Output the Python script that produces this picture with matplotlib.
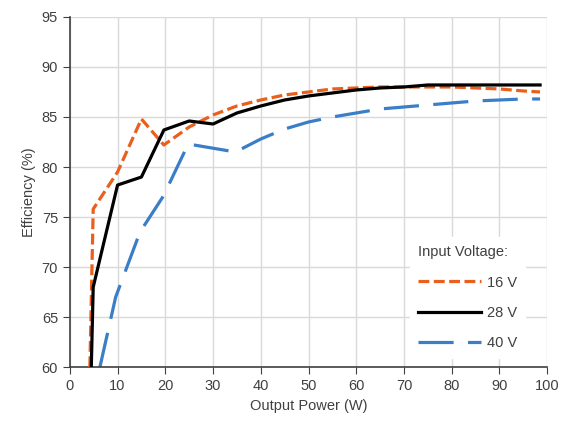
import numpy as np
import matplotlib.pyplot as plt

# output power (W) and efficiency (%)
p16 = [4.2, 4.9, 10, 15, 19.7, 25, 30, 35, 40, 45, 50, 55, 60, 65, 70, 75, 80, 85, 90, 95, 98.5]
e16 = [60, 75.8, 79.5, 84.8, 82.2, 84.0, 85.2, 86.1, 86.7, 87.2, 87.5, 87.8, 87.9, 88.0, 88.0, 88.0, 88.0, 87.9, 87.8, 87.6, 87.5]

p28 = [4.5, 4.9, 10, 15, 19.7, 25, 30, 35, 40, 45, 50, 55, 60, 65, 70, 75, 80, 85, 90, 95, 98.5]
e28 = [60, 68.0, 78.2, 79.0, 83.7, 84.6, 84.3, 85.4, 86.1, 86.7, 87.1, 87.4, 87.7, 87.9, 88.0, 88.2, 88.2, 88.2, 88.2, 88.2, 88.2]

p40 = [6.3, 9.6, 14.7, 19.6, 24.8, 34.7, 40, 45, 50, 55, 60, 65, 70, 75, 80, 85, 90, 95, 98.5]
e40 = [60, 67.0, 73.5, 77.1, 82.3, 81.5, 82.8, 83.8, 84.5, 85.0, 85.4, 85.8, 86.0, 86.2, 86.4, 86.6, 86.7, 86.8, 86.8]

plt.rcParams["font.family"] = "Liberation Sans"
plt.rcParams["font.size"] = 10.5

fig = plt.figure(figsize=(5.63, 4.23), dpi=100)
ax = fig.add_axes([0.124, 0.132, 0.848, 0.828])

ax.plot(p16, e16, color="#e8601c", lw=2.3, dashes=(3.4, 1.4), label="16 V", zorder=3)
ax.plot(p28, e28, color="black", lw=2.3, label="28 V", zorder=4)
ax.plot(p40, e40, color="#3a7ec8", lw=2.3, dashes=(11, 4.5), label="40 V", zorder=2)

ax.set_xlim(0, 100)
ax.set_ylim(60, 95)
ax.set_xticks(np.arange(0, 101, 10))
ax.set_yticks(np.arange(60, 96, 5))
ax.grid(True, color="#d9d9d9", lw=1)
ax.set_axisbelow(True)
for s in ["top", "right"]:
    ax.spines[s].set_visible(False)
for s in ["left", "bottom"]:
    ax.spines[s].set_color("#404040")
    ax.spines[s].set_linewidth(1.2)
ax.tick_params(direction="out", length=5, color="#404040", labelcolor="#404040")

ax.set_xlabel("Output Power (W)", color="#404040")
ax.set_ylabel("Efficiency (%)", color="#404040")

leg = ax.legend(title="Input Voltage:", loc="upper left", frameon=True,
                bbox_to_anchor=(0.713, 0.371), borderaxespad=0,
                handlelength=4.3, handletextpad=0.4, labelspacing=1.12,
                borderpad=0.55, fancybox=False)
leg.get_frame().set_edgecolor("white")
leg.get_frame().set_facecolor("white")
leg.get_frame().set_alpha(1)
leg._legend_box.align = "left"
leg.get_title().set_color("#404040")
for t in leg.get_texts():
    t.set_color("#404040")

fig.savefig("out.png", dpi=100)
